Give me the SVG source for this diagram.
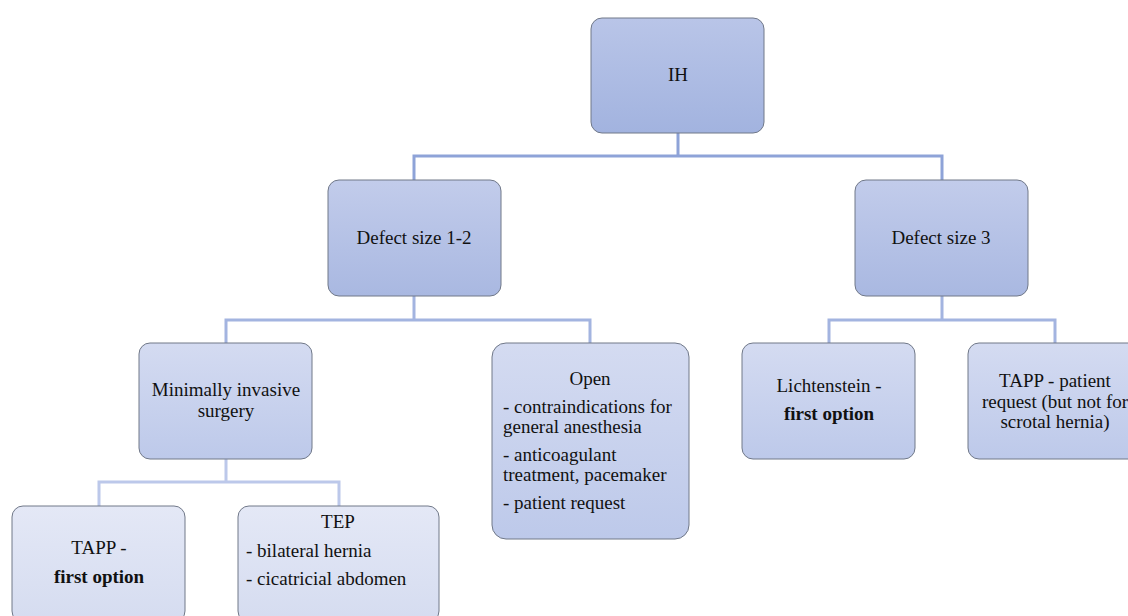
<svg xmlns="http://www.w3.org/2000/svg" width="1128" height="616" viewBox="0 0 1128 616">
<defs>
<linearGradient id="g0" x1="0" y1="0" x2="0" y2="1"><stop offset="0" stop-color="#b9c5e8"/><stop offset="1" stop-color="#a2b3df"/></linearGradient>
<linearGradient id="g1" x1="0" y1="0" x2="0" y2="1"><stop offset="0" stop-color="#c2cceb"/><stop offset="1" stop-color="#a9b8e1"/></linearGradient>
<linearGradient id="g2" x1="0" y1="0" x2="0" y2="1"><stop offset="0" stop-color="#d4dbf1"/><stop offset="1" stop-color="#bdc9ea"/></linearGradient>
<linearGradient id="g3" x1="0" y1="0" x2="0" y2="1"><stop offset="0" stop-color="#e4e8f6"/><stop offset="1" stop-color="#d5dcf0"/></linearGradient>
</defs>
<style>
.n{stroke:#707888;stroke-width:1;}
text{font-family:'Liberation Serif','DejaVu Serif',serif;font-size:19px;fill:#111;}
.c{text-anchor:middle;}
.b{font-weight:bold;}
.l0{fill:none;stroke:#8ea3d8;stroke-width:3;}
.l1{fill:none;stroke:#a3b4e0;stroke-width:3;}
.l2{fill:none;stroke:#bcc8ea;stroke-width:3;}
</style>
<rect width="1128" height="616" fill="#fff"/>
<g id="connectors">
<path class="l0" d="M678 133V156M414 180V156H942V180"/>
<path class="l1" d="M414 296V320M226 343V320H590V343"/>
<path class="l1" d="M942 296V320M829 343V320H1055V343"/>
<path class="l2" d="M226 459V482M99 506V482H339V506"/>
</g>
<g id="ih">
<rect class="n" x="591" y="18" width="173" height="115" rx="11" fill="url(#g0)"/>
<text class="c" x="678" y="81" font-family="Liberation Serif, serif">IH</text>
</g>
<g id="defect12">
<rect class="n" x="328" y="180" width="173" height="116" rx="11" fill="url(#g1)"/>
<text class="c" x="414" y="244">Defect size 1-2</text>
</g>
<g id="defect3">
<rect class="n" x="855" y="180" width="173" height="116" rx="11" fill="url(#g1)"/>
<text class="c" x="941" y="244">Defect size 3</text>
</g>
<g id="minimally">
<rect class="n" x="139" y="343" width="173" height="116" rx="11" fill="url(#g2)"/>
<text class="c" x="226" y="396">Minimally invasive</text>
<text class="c" x="226" y="417">surgery</text>
</g>
<g id="open">
<rect class="n" x="492" y="343" width="197" height="196" rx="14" fill="url(#g2)"/>
<text class="c" x="590" y="385">Open</text>
<text x="503" y="413">- contraindications for</text>
<text x="503" y="433">general anesthesia</text>
<text x="503" y="461">- anticoagulant</text>
<text x="503" y="481">treatment, pacemaker</text>
<text x="503" y="509">- patient request</text>
</g>
<g id="lichtenstein">
<rect class="n" x="742" y="343" width="173" height="116" rx="11" fill="url(#g2)"/>
<text class="c" x="829" y="392">Lichtenstein -</text>
<text class="c b" x="829" y="420">first option</text>
</g>
<g id="tapp-request">
<rect class="n" x="968" y="343" width="173" height="116" rx="11" fill="url(#g2)"/>
<text class="c" x="1055" y="387">TAPP - patient</text>
<text class="c" x="1055" y="408">request (but not for</text>
<text class="c" x="1055" y="428">scrotal hernia)</text>
</g>
<g id="tapp-first">
<rect class="n" x="12" y="506" width="173" height="116" rx="11" fill="url(#g3)"/>
<text class="c" x="99" y="554">TAPP -</text>
<text class="c b" x="99" y="583">first option</text>
</g>
<g id="tep">
<rect class="n" x="238" y="506" width="201" height="116" rx="11" fill="url(#g3)"/>
<text class="c" x="338" y="528">TEP</text>
<text x="246" y="557">- bilateral hernia</text>
<text x="246" y="585">- cicatricial abdomen</text>
</g>
</svg>
